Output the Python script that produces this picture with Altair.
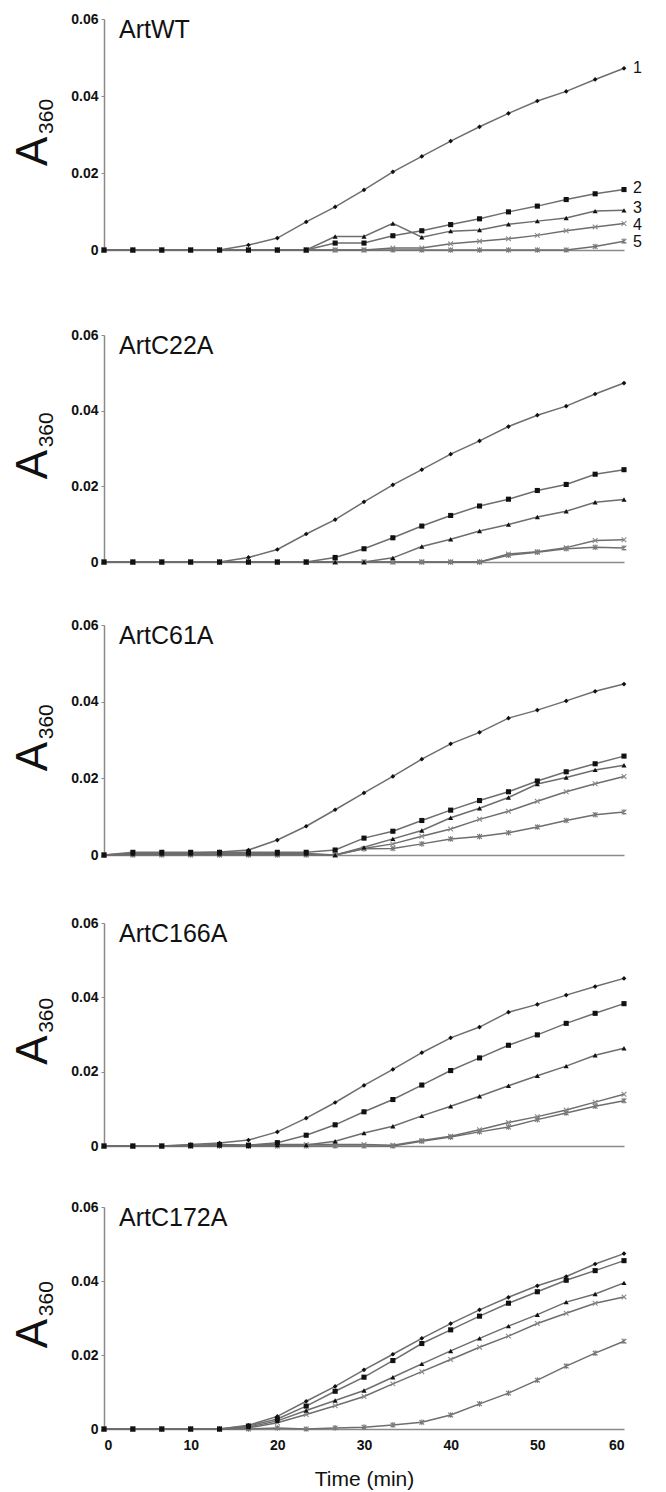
import altair as alt
import pandas as pd

# time points (min)
times = [0, 3.33, 6.67, 10, 13.33, 16.67, 20, 23.33, 26.67, 30, 33.33, 36.67, 40, 43.33, 46.67, 50, 53.33, 56.67, 60]

panel_names = ["ArtWT", "ArtC22A", "ArtC61A", "ArtC166A", "ArtC172A"]

wt_1 = [0, 0, 0, 0, 0, 0.0013, 0.0031, 0.0073, 0.0112, 0.0156, 0.0203, 0.0243, 0.0283, 0.0320, 0.0355, 0.0387, 0.0412, 0.0443, 0.0472]
wt_2 = [0, 0, 0, 0, 0, 0, 0, 0, 0.0018, 0.0018, 0.0037, 0.0050, 0.0066, 0.0081, 0.0099, 0.0114, 0.0131, 0.0146, 0.0157]
wt_3 = [0, 0, 0, 0, 0, 0, 0, 0, 0.0035, 0.0035, 0.0069, 0.0033, 0.0049, 0.0052, 0.0067, 0.0075, 0.0083, 0.0101, 0.0103]
wt_4 = [0, 0, 0, 0, 0, 0, 0, 0, 0, 0, 0.0005, 0.0005, 0.0016, 0.0023, 0.0029, 0.0038, 0.0050, 0.0060, 0.0069]
wt_5 = [0, 0, 0, 0, 0, 0, 0, 0, 0, 0, 0, 0, 0, 0, 0, 0, 0, 0.0009, 0.0023]

c22_1 = [0, 0, 0, 0, 0, 0.0012, 0.0033, 0.0074, 0.0112, 0.0159, 0.0204, 0.0244, 0.0285, 0.0320, 0.0358, 0.0388, 0.0412, 0.0444, 0.0473]
c22_2 = [0, 0, 0, 0, 0, 0, 0, 0, 0.0012, 0.0035, 0.0064, 0.0095, 0.0123, 0.0148, 0.0166, 0.0189, 0.0205, 0.0232, 0.0244]
c22_3 = [0, 0, 0, 0, 0, 0, 0, 0, 0, 0, 0.0011, 0.0041, 0.0060, 0.0082, 0.0099, 0.0119, 0.0134, 0.0158, 0.0165]
c22_4 = [0, 0, 0, 0, 0, 0, 0, 0, 0, 0, 0, 0, 0, 0, 0.0021, 0.0027, 0.0038, 0.0057, 0.0059]
c22_5 = [0, 0, 0, 0, 0, 0, 0, 0, 0, 0, 0, 0, 0, 0, 0.0018, 0.0026, 0.0035, 0.0039, 0.0037]

c61_1 = [0, 0.0003, 0.0005, 0.0005, 0.0008, 0.0013, 0.0039, 0.0075, 0.0118, 0.0162, 0.0205, 0.0250, 0.0290, 0.0320, 0.0357, 0.0378, 0.0402, 0.0427, 0.0446]
c61_2 = [0, 0.0007, 0.0007, 0.0007, 0.0007, 0.0007, 0.0007, 0.0007, 0.0013, 0.0044, 0.0062, 0.0090, 0.0117, 0.0142, 0.0165, 0.0193, 0.0217, 0.0238, 0.0258]
c61_3 = [0, 0.0004, 0.0004, 0.0004, 0.0004, 0.0004, 0.0004, 0.0004, 0, 0.0020, 0.0042, 0.0064, 0.0097, 0.0122, 0.0150, 0.0185, 0.0202, 0.0222, 0.0234]
c61_4 = [0, 0.0002, 0.0002, 0.0002, 0.0002, 0.0002, 0.0002, 0.0002, 0, 0.0017, 0.0029, 0.0049, 0.0068, 0.0093, 0.0114, 0.0140, 0.0165, 0.0186, 0.0205]
c61_5 = [0, 0, 0, 0, 0, 0, 0, 0, 0, 0.0016, 0.0017, 0.0029, 0.0042, 0.0048, 0.0058, 0.0073, 0.0090, 0.0105, 0.0112]

c166_1 = [0, 0, 0, 0.0004, 0.0008, 0.0016, 0.0038, 0.0075, 0.0117, 0.0163, 0.0206, 0.0251, 0.0291, 0.0320, 0.0360, 0.0381, 0.0406, 0.0429, 0.0451]
c166_2 = [0, 0, 0, 0.0002, 0.0004, 0.0002, 0.0009, 0.0029, 0.0057, 0.0092, 0.0125, 0.0164, 0.0203, 0.0237, 0.0271, 0.0299, 0.0330, 0.0357, 0.0383]
c166_3 = [0, 0, 0, 0, 0.0002, 0, 0.0003, 0.0003, 0.0013, 0.0035, 0.0053, 0.0081, 0.0107, 0.0134, 0.0162, 0.0189, 0.0215, 0.0244, 0.0263]
c166_4 = [0, 0, 0, 0, 0.0002, 0.0003, 0.0004, 0.0004, 0.0004, 0.0004, 0.0002, 0.0015, 0.0026, 0.0044, 0.0063, 0.0079, 0.0097, 0.0118, 0.0139]
c166_5 = [0, 0, 0, 0, 0, 0, 0, 0, 0, 0, 0, 0.0013, 0.0024, 0.0038, 0.0051, 0.0071, 0.0089, 0.0107, 0.0122]

c172_1 = [0, 0, 0, 0, 0, 0.0010, 0.0034, 0.0075, 0.0115, 0.0160, 0.0202, 0.0245, 0.0285, 0.0322, 0.0356, 0.0387, 0.0412, 0.0446, 0.0474]
c172_2 = [0, 0, 0, 0, 0, 0.0008, 0.0027, 0.0062, 0.0102, 0.0140, 0.0185, 0.0231, 0.0268, 0.0305, 0.0340, 0.0371, 0.0402, 0.0428, 0.0455]
c172_3 = [0, 0, 0, 0, 0, 0.0005, 0.0022, 0.0050, 0.0077, 0.0104, 0.0140, 0.0176, 0.0211, 0.0245, 0.0278, 0.0309, 0.0343, 0.0365, 0.0395]
c172_4 = [0, 0, 0, 0, 0, 0.0003, 0.0017, 0.0039, 0.0063, 0.0088, 0.0122, 0.0155, 0.0188, 0.0221, 0.0251, 0.0285, 0.0313, 0.0340, 0.0357]
c172_5 = [0, 0, 0, 0, 0, 0, 0.0003, 0, 0.0003, 0.0005, 0.0011, 0.0018, 0.0038, 0.0068, 0.0097, 0.0132, 0.0170, 0.0205, 0.0237]

panel_series = [
    [wt_1, wt_2, wt_3, wt_4, wt_5],
    [c22_1, c22_2, c22_3, c22_4, c22_5],
    [c61_1, c61_2, c61_3, c61_4, c61_5],
    [c166_1, c166_2, c166_3, c166_4, c166_5],
    [c172_1, c172_2, c172_3, c172_4, c172_5],
]
series_ids = ["1", "2", "3", "4", "5"]
# vertical position of the curve numbers at the right of the top panel
curve_label_y = [0.0473, 0.0161, 0.0109, 0.0065, 0.0021]

panel_heights = [231, 227, 230, 223, 222]
panel_gaps = [85, 63, 68, 61]

FONT = "Liberation Sans"
LINE_GREY = "#6e6e6e"
AXIS_GREY = "#8a8a8a"

x_ticks = [0, 10, 20, 30, 40, 50, 60]
y_ticks = [0, 0.02, 0.04, 0.06]

marker_shape = {"1": "diamond", "2": "square", "3": "triangle-up",
                "4": "M-1,-1L1,1M1,-1L-1,1",
                "5": "M-1,-1L1,1M1,-1L-1,1M0,-1.2L0,1.2"}
marker_filled = {"1": True, "2": True, "3": True, "4": False, "5": False}
marker_color = {"1": "#111111", "2": "#111111", "3": "#111111", "4": "#8a8a8a", "5": "#7a7a7a"}
marker_size = {"1": 22, "2": 26, "3": 26, "4": 22, "5": 22}
draw_order = ["4", "5", "1", "3", "2"]

XS = alt.Scale(domain=[0, 60], nice=False, zero=False)
YS = alt.Scale(domain=[0, 0.06], nice=False)


def make_panel(idx):
    rows = []
    for sid, vals in zip(series_ids, panel_series[idx]):
        for t, v in zip(times, vals):
            rows.append({"t": t, "v": v, "s": sid})
    df = pd.DataFrame(rows)
    h = panel_heights[idx]
    bottom = idx == len(panel_names) - 1

    if bottom:
        xaxis = alt.Axis(values=x_ticks, ticks=False, labelFont=FONT, labelFontSize=14,
                         labelFontWeight="bold", labelColor="#111", labelPadding=9,
                         domainColor=AXIS_GREY, domainWidth=1.5, grid=False,
                         title="Time (min)", titleFont=FONT, titleFontSize=21,
                         titleFontWeight="normal", titleColor="#111", titlePadding=16)
    else:
        xaxis = alt.Axis(labels=False, ticks=False, domainColor=AXIS_GREY,
                         domainWidth=1.5, grid=False, title=None)
    x = alt.X("t:Q", scale=XS, axis=xaxis)
    y = alt.Y("v:Q", scale=YS,
              axis=alt.Axis(values=y_ticks,
                            labelExpr="datum.value == 0 ? '0' : format(datum.value, '.2f')",
                            labelFont=FONT, labelFontSize=14, labelFontWeight="bold",
                            labelColor="#111", tickSize=3, tickColor=AXIS_GREY,
                            labelPadding=3, domainColor=AXIS_GREY, domainWidth=1.5,
                            grid=False, title=None))

    base = alt.Chart(df)
    layers = [base.mark_line(color=LINE_GREY, strokeWidth=1.5).encode(
        x=x, y=y, detail="s:N", order="t:Q")]

    for sid in draw_order:
        pts = base.transform_filter(alt.datum.s == sid).mark_point(
            shape=marker_shape[sid], filled=marker_filled[sid], color=marker_color[sid],
            size=marker_size[sid], opacity=1, strokeWidth=1.1,
        ).encode(x=x, y=y)
        layers.append(pts)

    name_df = pd.DataFrame({"name": [panel_names[idx]]})
    layers.append(alt.Chart(name_df).mark_text(
        align="left", baseline="alphabetic", font=FONT, fontSize=25, color="#111").encode(
        x=alt.value(15), y=alt.value(19), text="name:N"))

    ya = 0.636 * h
    layers.append(alt.Chart(pd.DataFrame({"a": ["A"]})).mark_text(
        align="left", baseline="alphabetic", angle=270, font=FONT, fontSize=44,
        color="#111").encode(x=alt.value(-57), y=alt.value(ya), text="a:N"))
    layers.append(alt.Chart(pd.DataFrame({"a": ["360"]})).mark_text(
        align="left", baseline="alphabetic", angle=270, font=FONT, fontSize=21,
        color="#111").encode(x=alt.value(-51), y=alt.value(ya - 32), text="a:N"))

    if idx == 0:
        end_df = pd.DataFrame({"s": series_ids, "t": [times[-1]] * 5, "v": curve_label_y})
        layers.append(alt.Chart(end_df).mark_text(
            align="left", baseline="middle", dx=9, font=FONT, fontSize=16,
            color="#111").encode(
            x=alt.X("t:Q", scale=XS), y=alt.Y("v:Q", scale=YS), text="s:N"))

    return alt.layer(*layers).properties(width=520, height=h)


panels = [make_panel(i) for i in range(5)]

# nest concatenations so every gap can differ
chart = alt.vconcat(panels[3], panels[4], spacing=panel_gaps[3], bounds="flush")
chart = alt.vconcat(panels[2], chart, spacing=panel_gaps[2], bounds="flush")
chart = alt.vconcat(panels[1], chart, spacing=panel_gaps[1], bounds="flush")
chart = alt.vconcat(panels[0], chart, spacing=panel_gaps[0], bounds="flush")

chart = chart.properties(
    padding={"left": 4, "top": 4, "right": 5, "bottom": 2},
    background="white",
).configure_view(stroke=None)

chart.save("out.html", embed_options={"renderer": "svg", "actions": False})
